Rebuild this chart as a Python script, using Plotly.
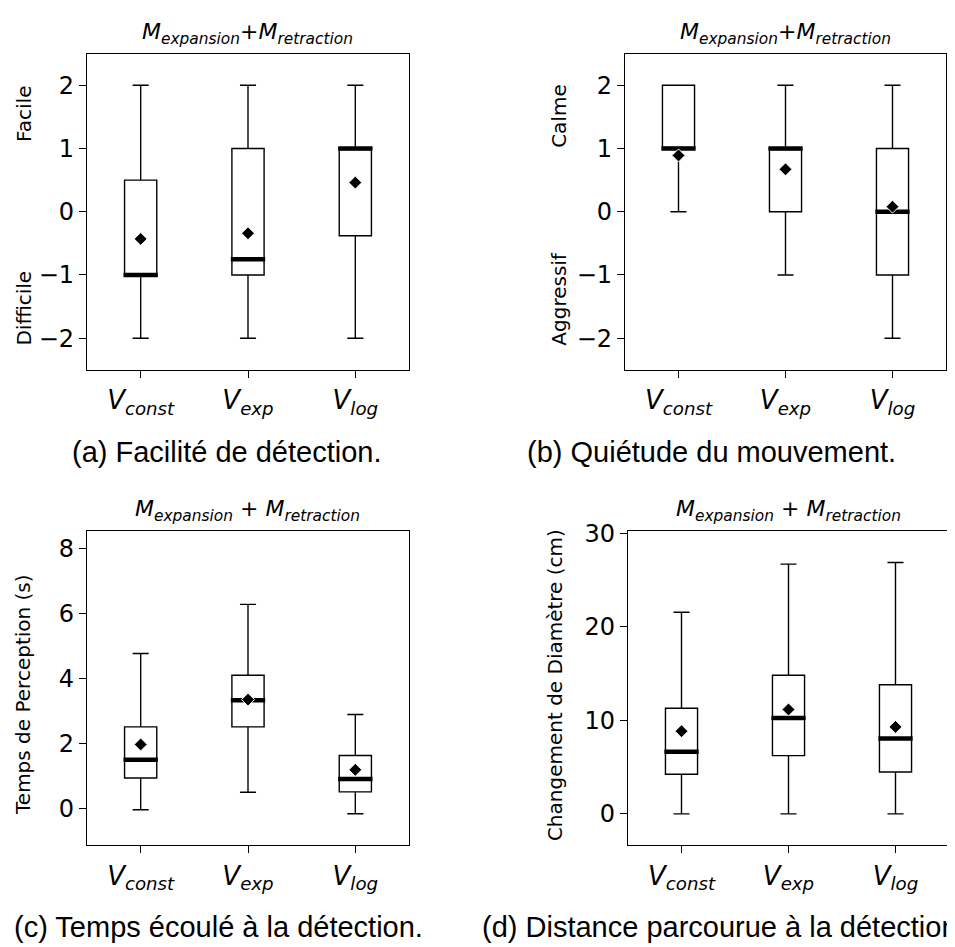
import plotly.graph_objects as go

# page body has an 8px margin: figure is drawn at (8, 8) in the browser window
OFF = 8
W, H = 955 - OFF, 947 - OFF

categories = ["V_const", "V_exp", "V_log"]
positions = [1, 2, 3]
tick_labels = ["<i>V</i><sub><i>const</i></sub>", "<i>V</i><sub><i>exp</i></sub>", "<i>V</i><sub><i>log</i></sub>"]

# (a) Facilité de détection
a_low = [-2, -2, -2]
a_q1 = [-1, -1, -0.38]
a_med = [-1, -0.75, 1]
a_q3 = [0.5, 1, 1]
a_high = [2, 2, 2]
a_mean = [-0.43, -0.34, 0.46]

# (b) Quiétude du mouvement
b_low = [0, -1, -2]
b_q1 = [1, 0, -1]
b_med = [1, 1, 0]
b_q3 = [2, 1, 1]
b_high = [2, 2, 2]
b_mean = [0.89, 0.67, 0.08]

# (c) Temps écoulé à la détection (s)
c_low = [-0.03, 0.51, -0.15]
c_q1 = [0.95, 2.52, 0.52]
c_med = [1.51, 3.34, 0.92]
c_q3 = [2.52, 4.11, 1.64]
c_high = [4.78, 6.29, 2.9]
c_mean = [1.98, 3.36, 1.2]

# (d) Distance parcourue à la détection (cm)
d_low = [0, 0, 0]
d_q1 = [4.23, 6.23, 4.47]
d_med = [6.65, 10.25, 8.06]
d_q3 = [11.3, 14.82, 13.8]
d_high = [21.55, 26.7, 26.87]
d_mean = [8.84, 11.16, 9.3]

panels = [
    dict(low=a_low, q1=a_q1, med=a_med, q3=a_q3, high=a_high, mean=a_mean,
         xpx=(87, 409), ypx=(43, 363), yr=[-2.5, 2.5],
         yt=[-2, -1, 0, 1, 2], ytt=["\u22122", "\u22121", "0", "1", "2"]),
    dict(low=b_low, q1=b_q1, med=b_med, q3=b_q3, high=b_high, mean=b_mean,
         xpx=(625, 946), ypx=(43, 363), yr=[-2.5, 2.5],
         yt=[-2, -1, 0, 1, 2], ytt=["\u22122", "\u22121", "0", "1", "2"]),
    dict(low=c_low, q1=c_q1, med=c_med, q3=c_q3, high=c_high, mean=c_mean,
         xpx=(87, 409), ypx=(526, 844), yr=[-1.12, 8.55],
         yt=[0, 2, 4, 6, 8], ytt=["0", "2", "4", "6", "8"]),
    dict(low=d_low, q1=d_q1, med=d_med, q3=d_q3, high=d_high, mean=d_mean,
         xpx=(628, 949), ypx=(526, 844), yr=[-3.35, 30.25],
         yt=[0, 10, 20, 30], ytt=["0", "10", "20", "30"]),
]


def fx(x):
    return (x - OFF) / W


def fy(y):
    return 1 - (y - OFF) / H


FONT = "DejaVu Sans"
fig = go.Figure()
layout = dict(width=W, height=H, margin=dict(l=0, r=0, t=0, b=0),
              paper_bgcolor="white", plot_bgcolor="white", showlegend=False)

half = 0.16
for i, p in enumerate(panels):
    n = "" if i == 0 else str(i + 1)
    xa, ya = "x" + n, "y" + n
    fig.add_trace(go.Box(
        x=positions, q1=p["q1"], median=p["med"], q3=p["q3"],
        lowerfence=p["low"], upperfence=p["high"],
        width=0.3, whiskerwidth=0.5, boxpoints=False,
        line=dict(color="black", width=1.4), fillcolor="rgba(0,0,0,0)",
        xaxis=xa, yaxis=ya, hoverinfo="skip"))
    mx, my = [], []
    for pos, m in zip(positions, p["med"]):
        mx += [pos - half, pos + half, None]
        my += [m, m, None]
    fig.add_trace(go.Scatter(x=mx, y=my, mode="lines",
                             line=dict(color="black", width=4.5),
                             xaxis=xa, yaxis=ya, hoverinfo="skip"))
    fig.add_trace(go.Scatter(x=positions, y=p["mean"], mode="markers",
                             marker=dict(symbol="diamond", size=10, color="black",
                                         line=dict(color="white", width=1)),
                             xaxis=xa, yaxis=ya, hoverinfo="skip"))
    x0, x1 = p["xpx"]
    y0, y1 = p["ypx"]
    layout["xaxis" + n] = dict(
        domain=[fx(x0), fx(x1)], anchor=ya, range=[0.5, 3.5],
        tickmode="array", tickvals=positions, ticktext=tick_labels,
        ticks="outside", ticklen=7, tickwidth=1.2, tickcolor="black",
        showline=True, linecolor="black", linewidth=1.2, mirror=True,
        showgrid=False, zeroline=False,
        tickfont=dict(family=FONT, size=26, color="black"))
    layout["yaxis" + n] = dict(
        domain=[fy(y1), fy(y0)], anchor=xa, range=p["yr"],
        tickmode="array", tickvals=p["yt"], ticktext=p["ytt"],
        ticks="outside", ticklen=7, tickwidth=1.2, tickcolor="black",
        showline=True, linecolor="black", linewidth=1.2, mirror=True,
        showgrid=False, zeroline=False,
        tickfont=dict(family=FONT, size=24, color="black"))

title_tight = "<i>M</i><sub><i>expansion</i></sub>+<i>M</i><sub><i>retraction</i></sub>"
title_spaced = "<i>M</i><sub><i>expansion</i></sub> + <i>M</i><sub><i>retraction</i></sub>"

ann = []
for (cx, ty, txt) in [(248, 43, title_tight), (785, 43, title_tight),
                      (248, 526, title_spaced), (788, 526, title_spaced)]:
    ann.append(dict(x=fx(cx), y=fy(ty - 4), xref="paper", yref="paper", text=txt,
                    showarrow=False, xanchor="center", yanchor="bottom",
                    font=dict(family=FONT, size=22, color="black")))

for (cx, cy, txt) in [(24, 104, "Facile"), (24, 301, "Difficile"),
                      (559, 106, "Calme"), (559, 291, "Aggressif"),
                      (23, 692, "Temps de Perception (s)"),
                      (555, 682, "Changement de Diamètre (cm)")]:
    ann.append(dict(x=fx(cx), y=fy(cy), xref="paper", yref="paper", text=txt,
                    showarrow=False, textangle=-90, xanchor="center", yanchor="middle",
                    font=dict(family=FONT, size=20, color="black")))

for (lx, cy, txt) in [(70, 446, "(a) Facilité de détection."),
                      (525, 446, "(b) Quiétude du mouvement."),
                      (12, 927, "(c) Temps écoulé à la détection."),
                      (480, 927, "(d) Distance parcourue à la détection.")]:
    ann.append(dict(x=fx(lx), y=fy(cy), xref="paper", yref="paper", text=txt,
                    showarrow=False, xanchor="left", yanchor="middle",
                    font=dict(family="Liberation Sans", size=29, color="black")))

layout["annotations"] = ann
fig.update_layout(**layout)
fig.write_html("out.html")
